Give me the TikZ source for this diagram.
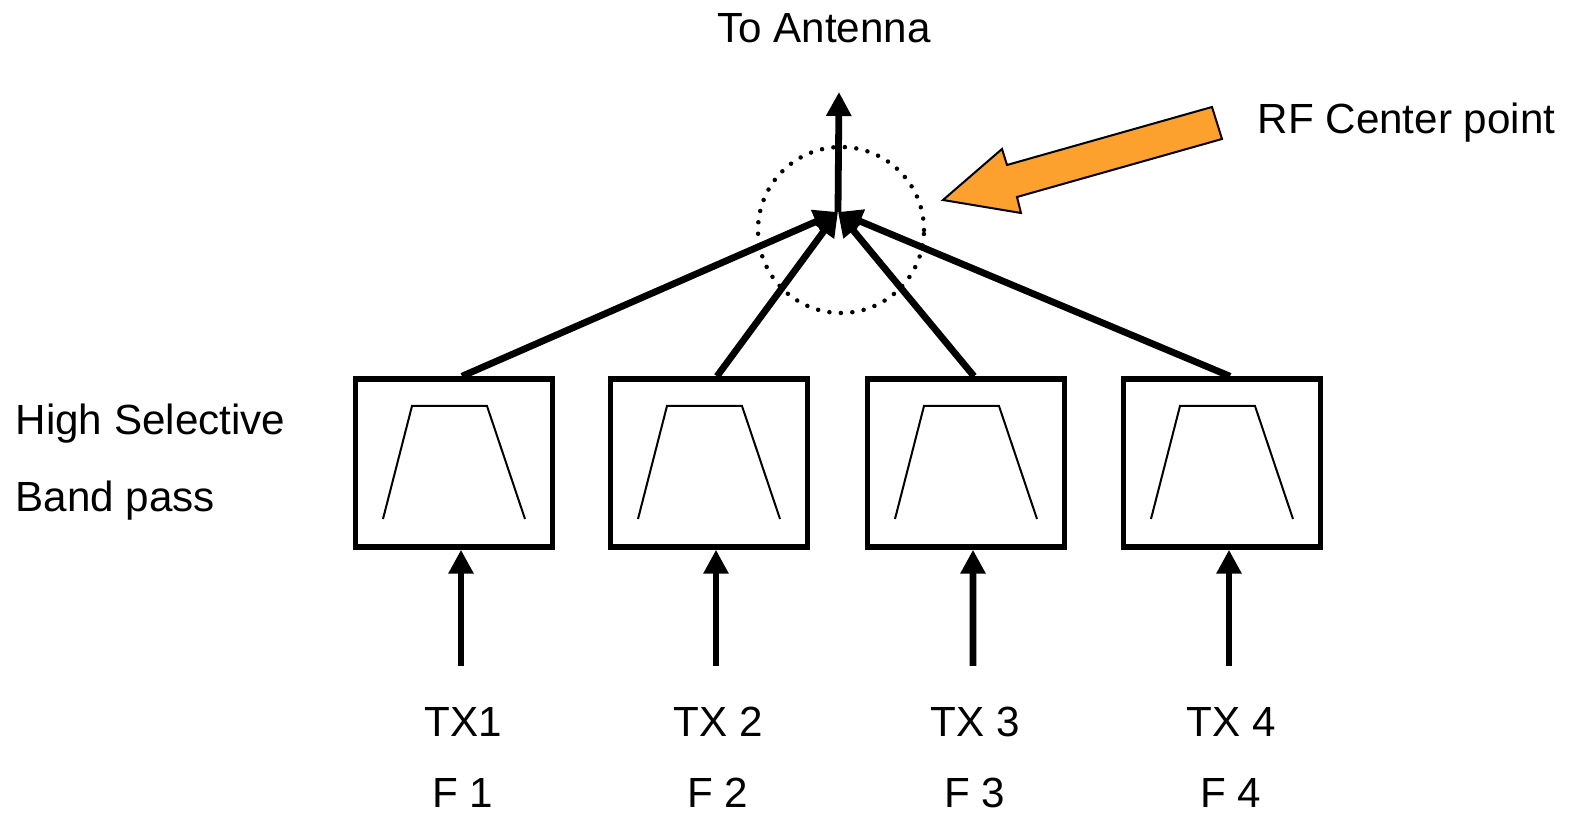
\documentclass[tikz,border=0pt]{standalone}
\usepackage{fontspec}
\setmainfont{Liberation Sans}
\usepackage{xcolor}
\usetikzlibrary{arrows.meta}
\definecolor{rforange}{RGB}{252,161,46}

\begin{document}
\begin{tikzpicture}[
  font=\fontsize{12}{14}\selectfont,
  sig/.style={line width=0.068cm,-{Triangle[length=0.24cm,width=0.24cm]}},
  bpbox/.style={draw,line width=0.055cm,minimum width=1.97cm,minimum height=1.68cm,inner sep=0pt}
]
\useasboundingbox (0,0) rectangle (15.72,8.17);
% summing point and antenna feed
\coordinate (sum) at (8.38,6.05);
\coordinate (ant) at (8.39,7.25);
\draw[sig] (sum) -- (ant);
\node (antlabel) at (8.24,7.89) {To Antenna};
\draw[line width=0.045cm,line cap=round,dash pattern=on 0pt off 0.115cm] (8.41,5.87) circle (0.83);
% the four filter branches
\foreach \i/\x in {1/4.54,2/7.09,3/9.66,4/12.22}{
\node[bpbox] (bp\i) at (\x,3.54) {};
\draw[line width=0.02cm,shift={(bp\i.center)}] (-0.71,-0.56) -- (-0.42,0.57) -- (0.33,0.57) -- (0.71,-0.56);
\coordinate (in\i) at (\x+0.07,1.51);
\draw[sig] (in\i) -- ([xshift=0.07cm]bp\i.south);
\draw[sig] ([xshift=0.08cm]bp\i.north) -- (sum);
\node[inner sep=0pt] (tx\i) at (\x+0.09,0.95) {TX\ifnum\i>1\ \fi\i};
\node[inner sep=0pt] (f\i) at (\x+0.09,0.24) {F \i};
}
\node[anchor=west,inner sep=0pt] (hs) at (0.15,3.93) {High Selective};
\node[anchor=west,inner sep=0pt] (bp) at (0.15,3.16) {Band pass};
% pointer to the centre point
\draw[line width=0.02cm,fill=rforange,line join=miter] (12.12,7.10) -- (12.22,6.78) -- (10.17,6.20) -- (10.21,6.04)
  -- (9.43,6.17) -- (10.02,6.68) -- (10.07,6.52) -- cycle;
\node[anchor=west,inner sep=0pt] (rfc) at (12.57,6.94) {RF Center point};
\end{tikzpicture}
\end{document}
